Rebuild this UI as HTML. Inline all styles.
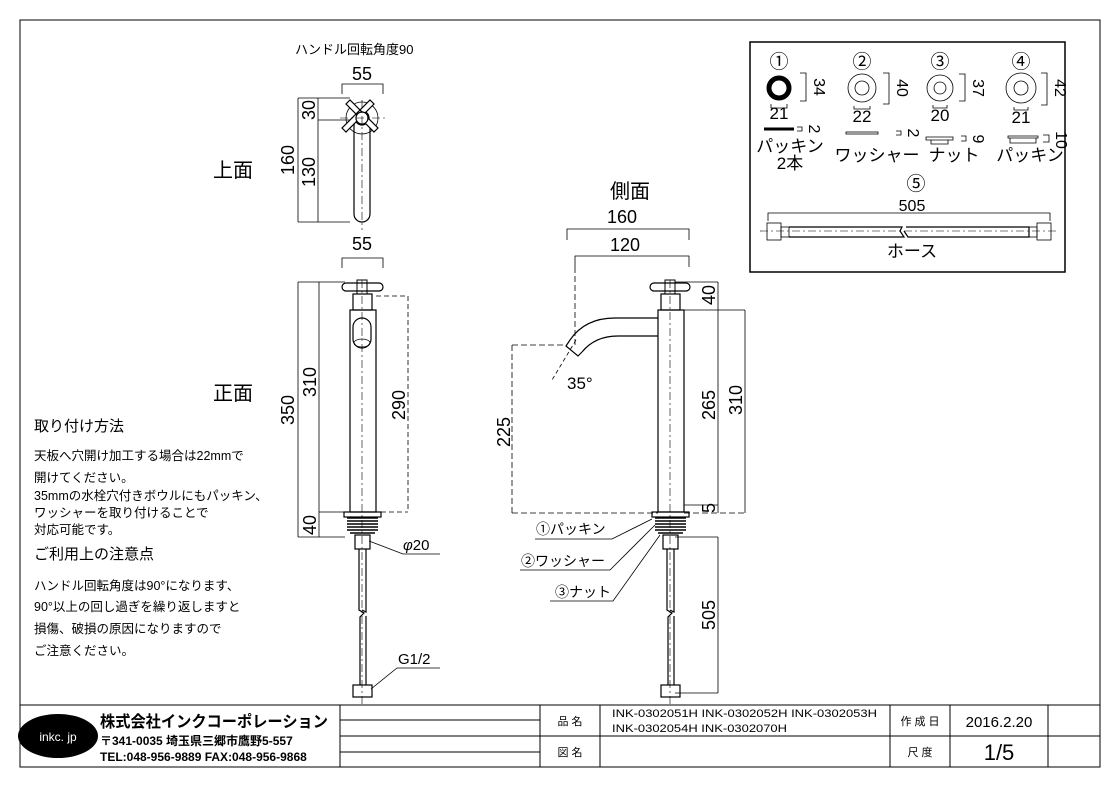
<!DOCTYPE html>
<html><head><meta charset="utf-8"><style>
html,body{margin:0;padding:0;background:#fff}
svg{display:block}
text{font-family:"Liberation Sans","Noto Sans CJK JP",sans-serif;fill:#000}
</style></head><body>
<svg width="1120" height="792" viewBox="0 0 1120 792" xmlns="http://www.w3.org/2000/svg">
<rect x="0" y="0" width="1120" height="792" fill="#fff"/>
<rect x="20" y="20" width="1080" height="747" fill="none" stroke="#000" stroke-width="1"/>

<!-- title block -->
<g stroke="#000" stroke-width="1" fill="none">
<line x1="20" y1="705" x2="1100" y2="705"/>
<line x1="340" y1="705" x2="340" y2="767"/>
<line x1="540" y1="705" x2="540" y2="767"/>
<line x1="600" y1="705" x2="600" y2="767"/>
<line x1="890" y1="705" x2="890" y2="767"/>
<line x1="950" y1="705" x2="950" y2="767"/>
<line x1="1048" y1="705" x2="1048" y2="767"/>
<line x1="340" y1="720" x2="540" y2="720"/>
<line x1="340" y1="736" x2="1100" y2="736"/>
<line x1="340" y1="752" x2="540" y2="752"/>
</g>
<ellipse cx="58" cy="736" rx="40" ry="22" fill="#000"/>
<text x="58" y="741" font-size="12" text-anchor="middle" style="fill:#fff">inkc. jp</text>
<text x="100" y="727" font-size="16" font-weight="bold" textLength="228" lengthAdjust="spacingAndGlyphs">株式会社インクコーポレーション</text>
<text x="100" y="745" font-size="12" font-weight="bold">〒341-0035 埼玉県三郷市鷹野5-557</text>
<text x="100" y="761" font-size="12" font-weight="bold">TEL:048-956-9889  FAX:048-956-9868</text>
<text x="570" y="725" font-size="11" text-anchor="middle">品 名</text>
<text x="570" y="756" font-size="11" text-anchor="middle">図 名</text>
<text x="612" y="717" font-size="11" textLength="265" lengthAdjust="spacingAndGlyphs">INK-0302051H  INK-0302052H  INK-0302053H</text>
<text x="612" y="732" font-size="11" textLength="175" lengthAdjust="spacingAndGlyphs">INK-0302054H  INK-0302070H</text>
<text x="920" y="725" font-size="11" text-anchor="middle">作 成 日</text>
<text x="920" y="756" font-size="11" text-anchor="middle">尺 度</text>
<text x="999" y="727" font-size="15" text-anchor="middle">2016.2.20</text>
<text x="999" y="760" font-size="22" text-anchor="middle">1/5</text>

<!-- left notes -->
<text x="34" y="431" font-size="15">取り付け方法</text>
<text x="34" y="460" font-size="12.5">天板へ穴開け加工する場合は22mmで</text>
<text x="34" y="482" font-size="12.5">開けてください。</text>
<text x="34" y="500" font-size="12.5">35mmの水栓穴付きボウルにもパッキン、</text>
<text x="34" y="517" font-size="12.5">ワッシャーを取り付けることで</text>
<text x="34" y="534" font-size="12.5">対応可能です。</text>
<text x="34" y="559" font-size="15">ご利用上の注意点</text>
<text x="34" y="590" font-size="12.5">ハンドル回転角度は90°になります、</text>
<text x="34" y="611" font-size="12.5">90°以上の回し過ぎを繰り返しますと</text>
<text x="34" y="633" font-size="12.5">損傷、破損の原因になりますので</text>
<text x="34" y="655" font-size="12.5">ご注意ください。</text>

<text x="213" y="177" font-size="20">上面</text>
<text x="213" y="400" font-size="20">正面</text>
<text x="610" y="198" font-size="20">側面</text>
<text x="295" y="54" font-size="13">ハンドル回転角度90</text>

<g stroke="#000" stroke-width="0.8" fill="none">
<!-- top view -->
<path d="M342 94 V84 H383 V94"/>
<path d="M318 98 H350 M318 120 H350 M298 98 H318 V222 H298 M318 222 H350 M298 98 V222"/>
<rect x="354" y="118" width="16" height="104" rx="8" stroke-width="1.2"/>
<circle cx="362" cy="118" r="16"/>
<circle cx="362" cy="118" r="7" stroke-width="1.2"/>
<path d="M346 104 l4 -4 l28 28 l-4 4 z M346 132 l-4 -4 l28 -28 l4 4 z" fill="#fff" stroke-width="1.2"/>
<circle cx="362" cy="118" r="6" fill="#fff" stroke-width="1.2"/>
<path d="M362 100 V230 M340 118 H386" stroke-dasharray="8 3 2 3" stroke-width="0.6"/>
</g>
<text x="362" y="80" font-size="18" text-anchor="middle">55</text>
<text x="362" y="250" font-size="18" text-anchor="middle">55</text>
<text transform="translate(315,110) rotate(-90)" font-size="18" text-anchor="middle">30</text>
<text transform="translate(315,172) rotate(-90)" font-size="18" text-anchor="middle">130</text>
<text transform="translate(294,160) rotate(-90)" font-size="18" text-anchor="middle">160</text>

<!-- front view -->
<g stroke="#000" stroke-width="0.8" fill="none">
<path d="M342 268 V258 H383 V268"/>
<path d="M298 282 H345 M298 537 H345 M298 282 V537 M319 282 V537 M319 512 H345"/>
<path d="M376 296 H408 V512 M381 512 H408" stroke-dasharray="5 3"/>
<path d="M345 512 H381" stroke-dasharray="5 3"/>
<rect x="342" y="283" width="41" height="8" rx="4" stroke-width="1.2"/>
<rect x="357" y="280" width="10" height="14" stroke-width="1"/>
<rect x="353" y="294" width="19" height="16" stroke-width="1.2"/>
<rect x="350" y="310" width="26" height="202" stroke-width="1.2"/>
<rect x="353" y="318" width="18" height="30" rx="9" stroke-width="1.2"/>
<ellipse cx="362" cy="343" rx="8" ry="4"/>
<rect x="344" y="512" width="37" height="5" stroke-width="1.2"/>
<path d="M347 518 H378 M347 521 H378 M347 524 H378 M347 527 H378 M347 530 H378 M350 533 H375" stroke-width="1.6"/>
<rect x="355" y="535" width="15" height="14" stroke-width="1.2"/>
<path d="M359 549 V610 l5 3 l-4 4 V685 M366 549 V612 l-4 -2 M366 616 V685" stroke-width="1.2"/>
<rect x="353" y="685" width="19" height="12" stroke-width="1.2"/>
<path d="M362 280 V705" stroke-dasharray="8 3 2 3" stroke-width="0.6"/>
<path d="M369 541 L403 554 H440"/>
<path d="M371 689 L397 668 H440"/>
</g>
<text transform="translate(316,382) rotate(-90)" font-size="18" text-anchor="middle">310</text>
<text transform="translate(294,410) rotate(-90)" font-size="18" text-anchor="middle">350</text>
<text transform="translate(316,525) rotate(-90)" font-size="18" text-anchor="middle">40</text>
<text transform="translate(405,405) rotate(-90)" font-size="18" text-anchor="middle">290</text>
<text x="403" y="550" font-size="15"><tspan font-style="italic">φ</tspan>20</text>
<text x="398" y="664" font-size="15">G1/2</text>

<!-- side view -->
<g stroke="#000" stroke-width="0.8" fill="none">
<path d="M567 240 V229 H689 V240"/>
<path d="M575 267 V256 H689 V267"/>
<path d="M575 267 V345" stroke-dasharray="6 3"/>
<path d="M512 345 H575 M512 345 V513 M512 513 H658 M684 513 H745" stroke-dasharray="6 3"/>
<path d="M675 282 H718 M684 310 H745 M718 282 V513 M745 310 V513 M718 505 H684"/>
<path d="M718 537 V693 M675 537 H718 M675 693 H718"/>
<rect x="650" y="283" width="40" height="8" rx="4" stroke-width="1.2"/>
<rect x="665" y="280" width="10" height="14" stroke-width="1"/>
<rect x="661" y="294" width="19" height="16" stroke-width="1.2"/>
<rect x="658" y="310" width="26" height="202" stroke-width="1.2"/>
<path d="M658 318 H615 Q585 318 570 340 M658 336 H618 Q595 336 582 352" stroke-width="1.2"/>
<path d="M570 340 L566 346 L578 356 L582 352" stroke-width="1.2" fill="#fff"/>
<path d="M576 340 L552 380" stroke-dasharray="4 3"/>
<rect x="652" y="512" width="37" height="5" stroke-width="1.2"/>
<path d="M655 518 H686 M655 521 H686 M655 524 H686 M655 527 H686 M655 530 H686 M658 533 H683" stroke-width="1.6"/>
<rect x="663" y="535" width="15" height="14" stroke-width="1.2"/>
<path d="M667 549 V610 l5 3 l-4 4 V685 M674 549 V612 l-4 -2 M674 616 V685" stroke-width="1.2"/>
<rect x="661" y="685" width="19" height="12" stroke-width="1.2"/>
<path d="M670 280 V705" stroke-dasharray="8 3 2 3" stroke-width="0.6"/>
<path d="M652 519 L612 539 H535"/>
<path d="M655 525 L610 570 H520"/>
<path d="M660 535 L613 601 H550"/>
</g>
<text x="622" y="223" font-size="18" text-anchor="middle">160</text>
<text x="625" y="251" font-size="18" text-anchor="middle">120</text>
<text x="567" y="389" font-size="17">35°</text>
<text transform="translate(510,432) rotate(-90)" font-size="18" text-anchor="middle">225</text>
<text transform="translate(715,295) rotate(-90)" font-size="18" text-anchor="middle">40</text>
<text transform="translate(715,405) rotate(-90)" font-size="18" text-anchor="middle">265</text>
<text transform="translate(715,508) rotate(-90)" font-size="18" text-anchor="middle">5</text>
<text transform="translate(742,400) rotate(-90)" font-size="18" text-anchor="middle">310</text>
<text transform="translate(715,615) rotate(-90)" font-size="18" text-anchor="middle">505</text>
<text x="536" y="534" font-size="14">①パッキン</text>
<text x="521" y="566" font-size="14">②ワッシャー</text>
<text x="555" y="597" font-size="14">③ナット</text>

<!-- parts box -->
<rect x="750" y="42" width="315" height="230" fill="none" stroke="#000" stroke-width="1.5"/>
<g font-size="19" text-anchor="middle">
<text x="779" y="68">①</text><text x="862" y="68">②</text><text x="940" y="68">③</text><text x="1021" y="68">④</text>
<text x="916" y="190">⑤</text>
</g>
<g stroke="#000" fill="none" stroke-width="0.8">
<circle cx="779" cy="88" r="10" stroke-width="5"/>
<circle cx="862" cy="88" r="14"/><circle cx="862" cy="88" r="7"/>
<circle cx="940" cy="88" r="13"/><circle cx="940" cy="88" r="6"/>
<circle cx="1021" cy="88" r="15"/><circle cx="1021" cy="88" r="7"/>
<path d="M800 73 H806 V101 H800 M883 73 H889 V104 H883 M959 74 H965 V101 H959 M1041 73 H1047 V105 H1041"/>
<path d="M771 104 V108 H787 V104 M854 106 V109 H870 V106 M933 105 V108 H947 V105 M1014 107 V110 H1028 V107"/>
<line x1="764" y1="129" x2="794" y2="129" stroke-width="3"/>
<path d="M797 127 H802 V131 H797 M896 131 H901 V135 H896 M961 136 H966 V141 H961 M1043 135 H1049 V142 H1043"/>
<rect x="846" y="132" width="32" height="2"/>
<path d="M926 137 H953 V140 H926 Z M931 140 V144 H948 V140"/>
<path d="M1008 136 H1038 V138 H1008 Z M1010 138 V143 H1036 V138"/>
<path d="M768 221 V213 H1050 V221"/>
<rect x="767" y="223" width="14" height="17"/>
<rect x="1037" y="223" width="14" height="17"/>
<rect x="781" y="227" width="8" height="10"/>
<rect x="1029" y="227" width="8" height="10"/>
<path d="M789 227 H902 l-2 4 l4 6 H789 M906 227 H1029 V237 H908 l-4 -6" stroke-width="1.2"/>
<path d="M760 231 H1058" stroke-dasharray="8 3 2 3" stroke-width="0.6"/>
</g>
<g font-size="17" text-anchor="middle">
<text x="779" y="119">21</text><text x="862" y="122">22</text><text x="940" y="121">20</text><text x="1021" y="123">21</text>
<text x="790" y="152">パッキン</text><text x="790" y="169">2本</text>
<text x="877" y="161">ワッシャー</text><text x="954" y="161">ナット</text><text x="1030" y="161">パッキン</text>
<text x="912" y="211" font-size="16">505</text>
<text x="912" y="257">ホース</text>
</g>
<g font-size="16" text-anchor="middle">
<text transform="translate(814,87) rotate(90)">34</text>
<text transform="translate(897,88) rotate(90)">40</text>
<text transform="translate(973,88) rotate(90)">37</text>
<text transform="translate(1055,88) rotate(90)">42</text>
<text transform="translate(809,129) rotate(90)">2</text>
<text transform="translate(908,133) rotate(90)">2</text>
<text transform="translate(973,139) rotate(90)">9</text>
<text transform="translate(1056,140) rotate(90)">10</text>
</g>
</svg>
</body></html>
